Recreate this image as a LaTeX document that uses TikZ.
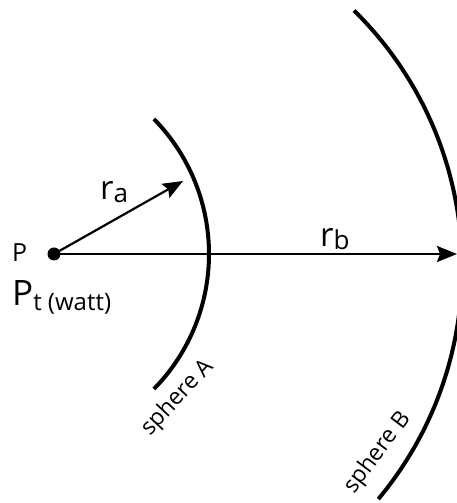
\documentclass[tikz,border=0pt]{standalone}
\usepackage{fontspec}
\setmainfont{Open Sans}
\usetikzlibrary{arrows.meta}
\begin{document}
\begin{tikzpicture}[x=1pt,y=1pt,
  sphere/.style={line width=4pt},
  ray/.style={line width=2.2pt,-{Stealth[length=20pt,width=16pt,inset=3pt]}},
  lbl/.style={inner sep=0pt},
  dot/.style={circle,fill,inner sep=0pt,minimum size=13pt},
]
\useasboundingbox (0,0) rectangle (457,503);
\clip (0,0) rectangle (457,503);
\node[dot] (P) at (54,249) {};
\coordinate (A) at (183,322);
\coordinate (B) at (457,249);
\draw[ray] (P.center) -- (A);
\draw[ray] (P.center) -- (B);
\draw[sphere] (16,249) ++(-44.4:193) arc[start angle=-44.4,end angle=44.4,radius=193];
\draw[sphere] (101,235) ++(-39.8:361) arc[start angle=-39.8,end angle=45.5,radius=361];
\node[lbl,anchor=base west] (plabel) at (12,241) {\fontsize{25}{25}\selectfont P};
\node[lbl,anchor=base west] (pt) at (12,197) {\fontsize{35}{35}\selectfont P\raisebox{-5pt}{\fontsize{24}{24}\selectfont t (watt)}};
\node[lbl,anchor=base west] (ra) at (100,303) {\fontsize{33}{33}\selectfont r\raisebox{-3pt}{\fontsize{26}{26}\selectfont a}};
\node[lbl,anchor=base west] (rb) at (320,256) {\fontsize{33}{33}\selectfont r\raisebox{-3pt}{\fontsize{26}{26}\selectfont b}};
\node[lbl,rotate=47] (sa) at (178,105) {\fontsize{23}{23}\selectfont sphere A};
\node[lbl,rotate=53] (sb) at (378,50) {\fontsize{23}{23}\selectfont sphere B};
\end{tikzpicture}
\end{document}
